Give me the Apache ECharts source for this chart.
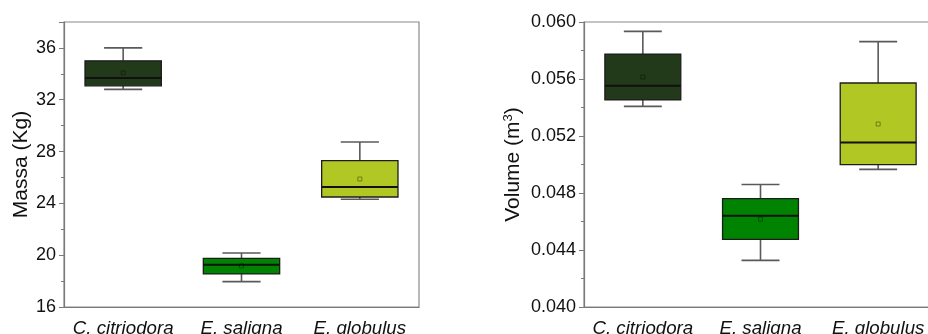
<!DOCTYPE html>
<html><head><meta charset="utf-8">
<script src="https://cdn.jsdelivr.net/npm/echarts@6/dist/echarts.min.js"></script>
<style>html,body{margin:0;padding:0;background:#fff}#c{width:928px;height:334px}</style>
</head><body><div id="c"></div>
<script>
const categories = ['C. citriodora', 'E. saligna', 'E. globulus'];
const colors = ['#22391a', '#008300', '#b1c824'];
// [whiskerMin, Q1, median, Q3, whiskerMax, mean]
const massa = [
  [32.8, 33.07, 33.68, 35.0, 36.0, 34.07],
  [17.96, 18.55, 19.27, 19.76, 20.17, 19.17],
  [24.32, 24.49, 25.27, 27.30, 28.74, 25.88]
];
const volume = [
  [0.05408, 0.05453, 0.05553, 0.05775, 0.05934, 0.05614],
  [0.04327, 0.04474, 0.04641, 0.0476, 0.0486, 0.04617],
  [0.04966, 0.04999, 0.05155, 0.05572, 0.05862, 0.05284]
];
const massaTicks = {min: 16, max: 38, interval: 4, showMax: false};
const volumeTicks = {min: 0.040, max: 0.060, interval: 0.004, showMax: true};

function renderBox(params, api) {
  const i = api.value(0);
  const band = api.size([1, 0])[0];
  const bw = band * 0.645, cw = bw * 0.5;
  const pMin = api.coord([i, api.value(1)]);
  const pQ1 = api.coord([i, api.value(2)]);
  const pMed = api.coord([i, api.value(3)]);
  const pQ3 = api.coord([i, api.value(4)]);
  const pMax = api.coord([i, api.value(5)]);
  const pMean = api.coord([i, api.value(6)]);
  const x = pQ1[0];
  const wl = {stroke: '#5a5a5a', lineWidth: 1.6};
  return {type: 'group', children: [
    {type: 'line', shape: {x1: x, y1: pMax[1], x2: x, y2: pQ3[1]}, style: wl},
    {type: 'line', shape: {x1: x, y1: pMin[1], x2: x, y2: pQ1[1]}, style: wl},
    {type: 'line', shape: {x1: x - cw/2, y1: pMax[1], x2: x + cw/2, y2: pMax[1]}, style: wl},
    {type: 'line', shape: {x1: x - cw/2, y1: pMin[1], x2: x + cw/2, y2: pMin[1]}, style: wl},
    {type: 'rect', shape: {x: x - bw/2, y: pQ3[1], width: bw, height: pQ1[1] - pQ3[1]},
      style: {fill: colors[i], stroke: '#1c1c1c', lineWidth: 1.3}},
    {type: 'line', shape: {x1: x - bw/2, y1: pMed[1], x2: x + bw/2, y2: pMed[1]},
      style: {stroke: '#111', lineWidth: 2}},
    {type: 'rect', shape: {x: pMean[0] - 2, y: pMean[1] - 2, width: 4, height: 4},
      style: {fill: 'none', stroke: 'rgba(0,0,0,0.45)', lineWidth: 0.8}}
  ]};
}

const chart = echarts.init(document.getElementById('c'));
const axisCol = '#7a7a7a';
const font = 'Liberation Sans, Arial, sans-serif';
function xAx(gi) {
  return {type: 'category', gridIndex: gi, data: categories, boundaryGap: true,
    axisLine: {lineStyle: {color: axisCol, width: 1.2}},
    axisTick: {alignWithLabel: true, interval: 0, length: 5, lineStyle: {color: axisCol}},
    axisLabel: {interval: 0, hideOverlap: false, fontFamily: font, fontSize: 18.7, fontStyle: 'italic', color: '#111', margin: 12}};
}
function yAx(gi, t, name, gap, fmt) {
  return {type: 'value', gridIndex: gi, min: t.min, max: t.max, interval: t.interval,
    name: name, nameLocation: 'middle', nameGap: gap,
    nameTextStyle: {fontFamily: font, fontSize: 21, color: '#111',
      rich: {sup: {fontFamily: font, fontSize: 13, color: '#111', verticalAlign: 'top', padding: [0,0,10,0]}}},
    splitLine: {show: false},
    axisLine: {show: true, lineStyle: {color: axisCol, width: 1.2}},
    axisTick: {show: true, length: 5, lineStyle: {color: axisCol}},
    minorTick: {show: true, splitNumber: 2, length: 3, lineStyle: {color: axisCol}},
    axisLabel: {showMaxLabel: t.showMax, fontFamily: font, fontSize: 18, color: '#111', margin: 8, formatter: fmt}};
}
chart.setOption({
  animation: false,
  grid: [
    {left: 64, top: 22, width: 355, height: 285, outerBoundsMode: 'none', containLabel: false, show: true, borderColor: '#8a8a8a', borderWidth: 1.2},
    {left: 584, top: 22, width: 353, height: 285, outerBoundsMode: 'none', containLabel: false, show: true, borderColor: '#8a8a8a', borderWidth: 1.2}
  ],
  xAxis: [xAx(0), xAx(1)],
  yAxis: [
    yAx(0, massaTicks, 'Massa (Kg)', 31, v => String(v)),
    yAx(1, volumeTicks, 'Volume (m{sup|3})', 59, v => v.toFixed(3))
  ],
  series: [
    {type: 'custom', xAxisIndex: 0, yAxisIndex: 0, renderItem: renderBox,
      data: massa.map((d, i) => [i].concat(d))},
    {type: 'custom', xAxisIndex: 1, yAxisIndex: 1, renderItem: renderBox,
      data: volume.map((d, i) => [i].concat(d))}
  ]
});
</script></body></html>
